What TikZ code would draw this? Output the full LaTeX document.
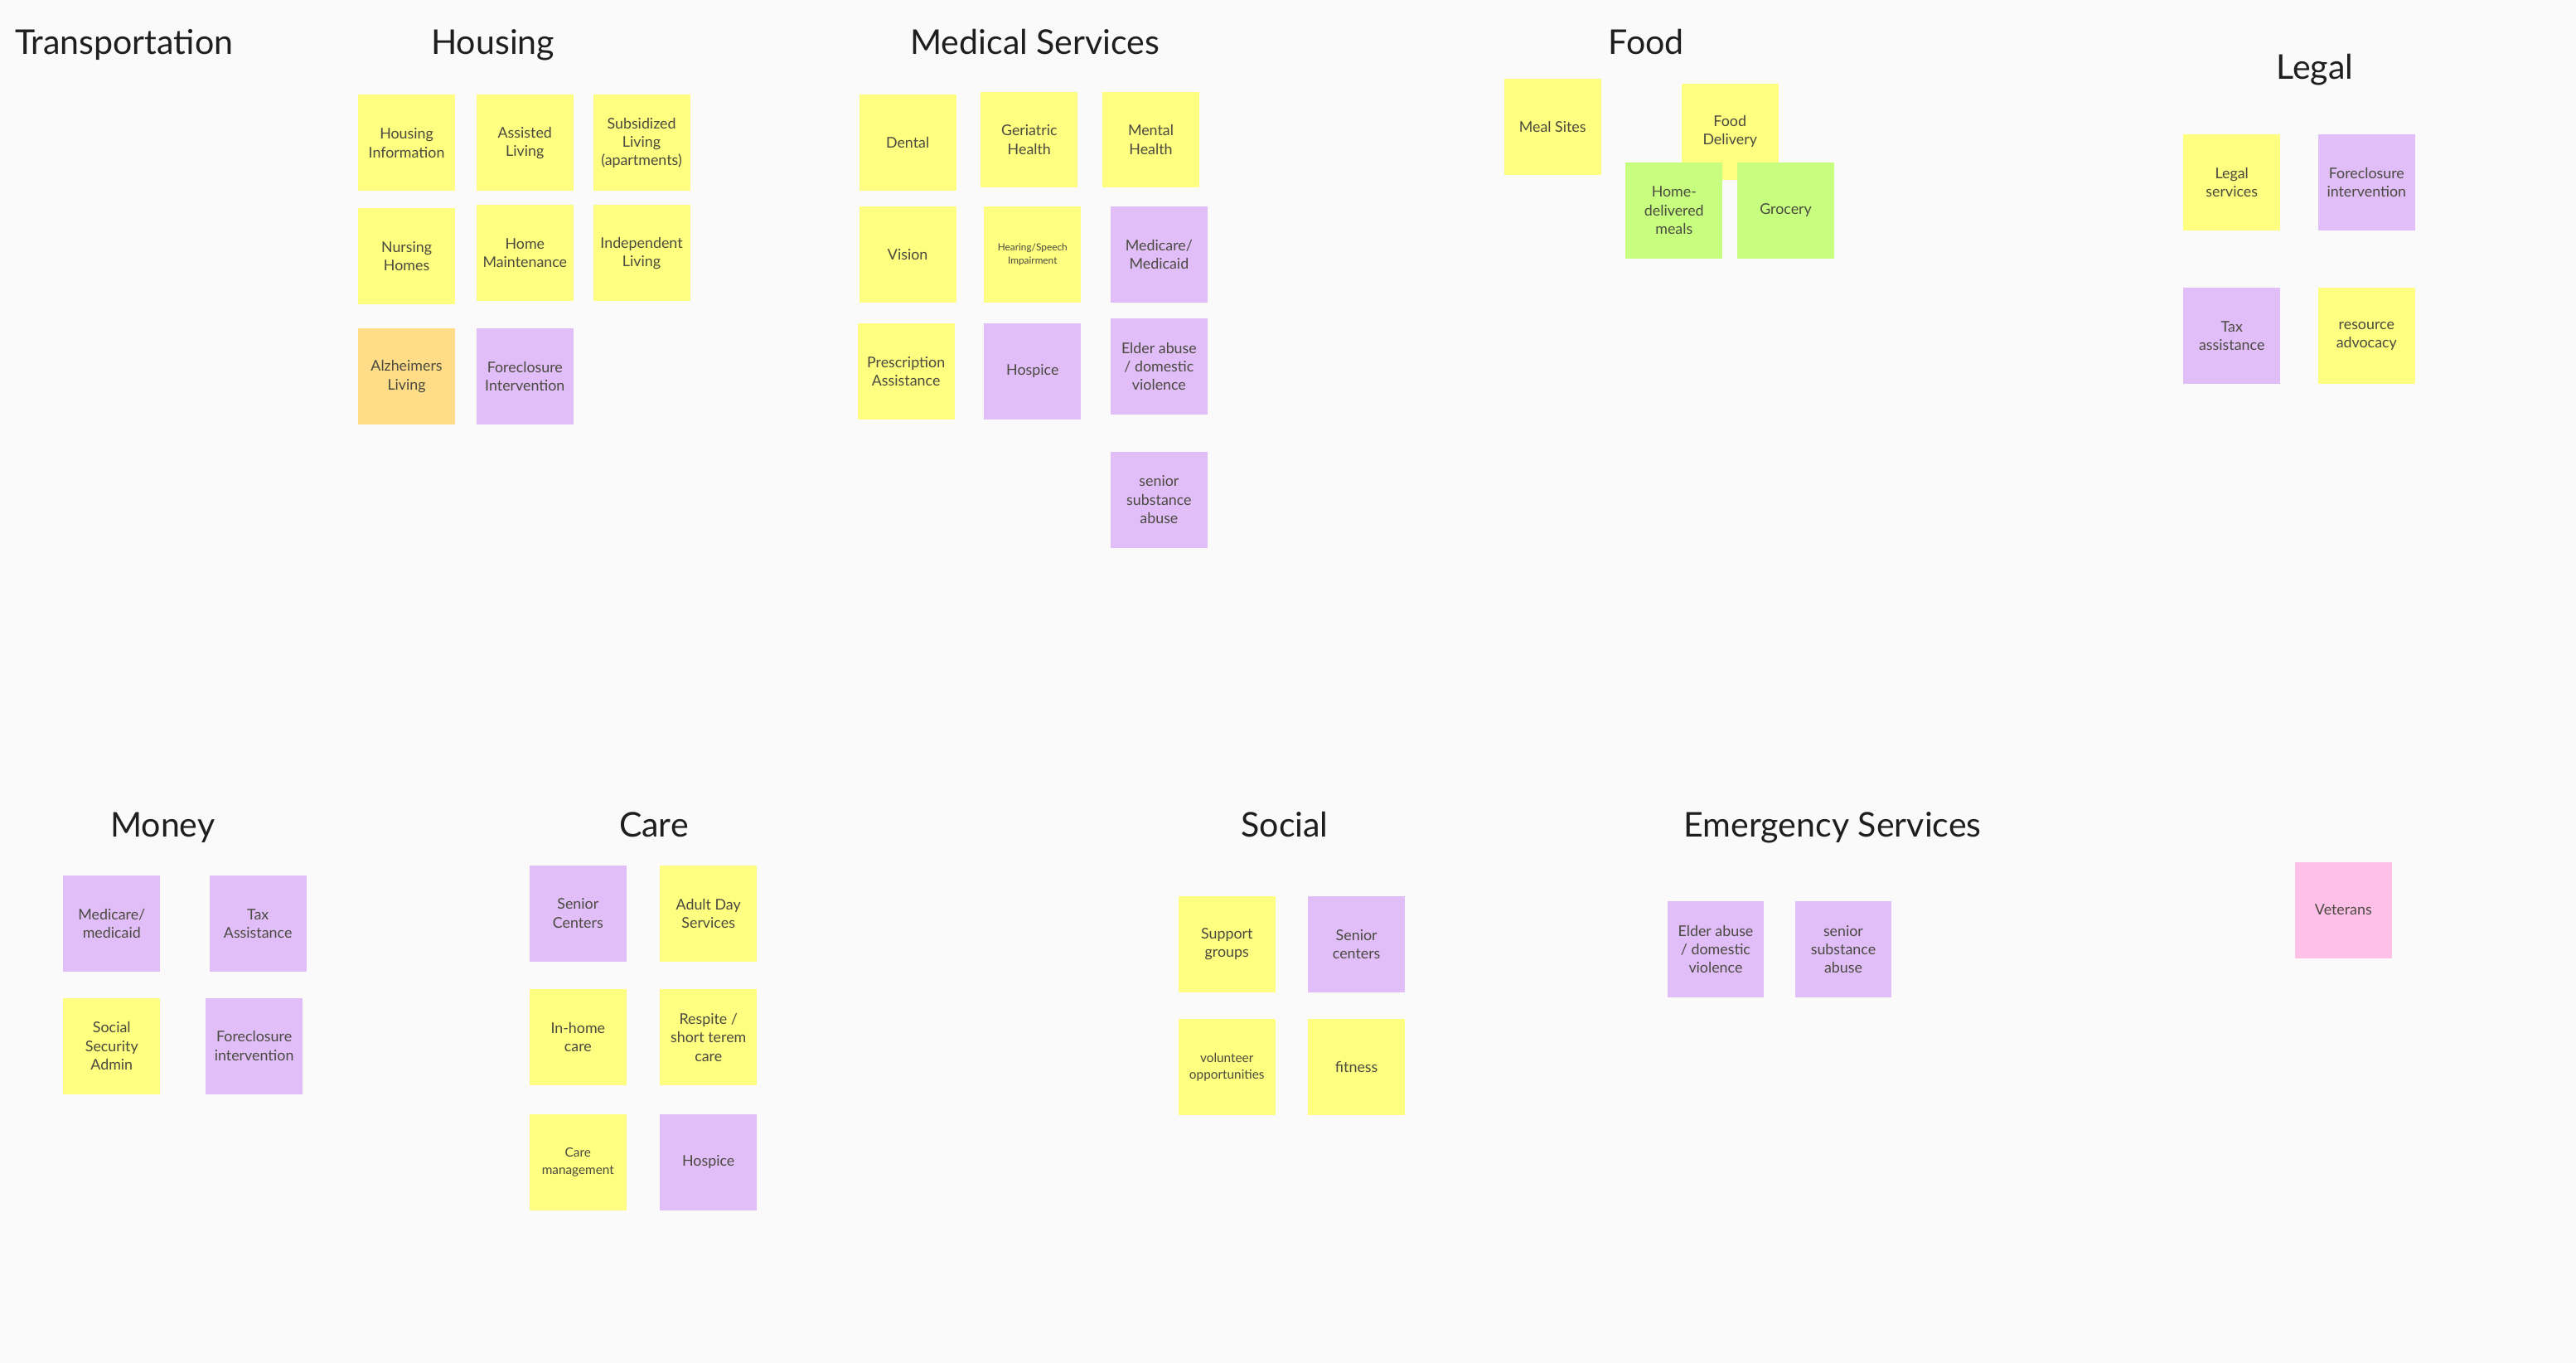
\documentclass[tikz,border=0pt]{standalone}
\usepackage{fontspec}
\setmainfont{Lato}
\definecolor{bg}{HTML}{FAFAFA}
\definecolor{sy}{HTML}{FEFE80}
\definecolor{sp}{HTML}{E1BEF8}
\definecolor{so}{HTML}{FFDD88}
\definecolor{sg}{HTML}{C8FE80}
\definecolor{spk}{HTML}{FFC0E8}
\definecolor{stxt}{HTML}{4A4A40}
\definecolor{ttl}{HTML}{1E1E1E}
\newcommand\stkfont{\fontsize{12.8}{16}\selectfont}
\newcommand\ttlfont{\fontsize{29.5}{34}\selectfont}
\tikzset{
  sticky/.style={minimum width=2.95cm, minimum height=2.925cm, inner sep=1pt,
    align=center, font=\stkfont, text=stxt, draw=none},
  ylw/.style={sticky, fill=sy},
  prp/.style={sticky, fill=sp},
  org/.style={sticky, fill=so},
  grn/.style={sticky, fill=sg},
  pnk/.style={sticky, fill=spk},
  title/.style={font=\ttlfont, text=ttl, anchor=base, inner sep=0pt}
}
\begin{document}
\begin{tikzpicture}[x=0.05cm, y=-0.05cm]
\fill[bg] (0,0) rectangle (1568,829.4);
\useasboundingbox (0,0) rectangle (1568,829.4);

% titles
\node[title] (tTrans) at (75.5,33) {Transportation};
\node[title] (tHous) at (300,33) {Housing};
\node[title] (tMed) at (630,33) {Medical Services};
\node[title] (tFood) at (1002,33) {Food};
\node[title] (tLegal) at (1409,48.4) {Legal};
\node[title] (tMoney) at (99,509.4) {Money};
\node[title] (tCare) at (398,509.4) {Care};
\node[title] (tSocial) at (782,509.4) {Social};
\node[title] (tEmerg) at (1115.5,509.4) {Emergency Services};

% Housing
\node[ylw] (h1) at (247.5,87) {Housing\\Information};
\node[ylw] (h2) at (319.5,87) {Assisted\\Living};
\node[ylw] (h3) at (390.5,87) {Subsidized\\Living\\(apartments)};
\node[ylw] (h4) at (247.5,156) {Nursing\\Homes};
\node[ylw] (h5) at (319.5,154) {Home\\Maintenance};
\node[ylw] (h6) at (390.5,154) {Independent\\Living};
\node[org] (h7) at (247.5,229) {Alzheimers\\Living};
\node[prp] (h8) at (319.5,229) {Foreclosure\\Intervention};

% Medical Services
\node[ylw] (m1) at (552.5,87) {Dental};
\node[ylw] (m2) at (626.5,85) {Geriatric\\Health};
\node[ylw] (m3) at (700.5,85) {Mental\\Health};
\node[ylw] (m4) at (552.5,155) {Vision};
\node[ylw, font=\fontsize{8.5}{11}\selectfont] (m5) at (628.5,155) {Hearing/Speech\\Impairment};
\node[prp] (m6) at (705.5,155) {Medicare/\\Medicaid};
\node[ylw] (m7) at (551.5,226) {Prescription\\Assistance};
\node[prp] (m8) at (628.5,226) {Hospice};
\node[prp] (m9) at (705.5,223) {Elder abuse\\/ domestic\\violence};
\node[prp] (m10) at (705.5,304) {senior\\substance\\abuse};

% Food
\node[ylw] (f1) at (945,77) {Meal Sites};
\node[ylw] (f2) at (1053,80) {Food\\Delivery};
\node[grn] (f3) at (1019,128) {Home-\\delivered\\meals};
\node[grn] (f4) at (1087,128) {Grocery};

% Legal
\node[ylw] (l1) at (1358.5,111) {Legal\\services};
\node[prp] (l2) at (1440.5,111) {Foreclosure\\intervention};
\node[prp] (l3) at (1358.5,204.5) {Tax\\assistance};
\node[ylw] (l4) at (1440.5,204.5) {resource\\advocacy};

% Money
\node[prp] (y1) at (68,562) {Medicare/\\medicaid};
\node[prp] (y2) at (157,562) {Tax\\Assistance};
\node[ylw] (y3) at (68,636.5) {Social\\Security\\Admin};
\node[prp] (y4) at (154.7,636.5) {Foreclosure\\intervention};

% Care
\node[prp] (c1) at (351.8,555.8) {Senior\\Centers};
\node[ylw] (c2) at (431.2,555.8) {Adult Day\\Services};
\node[ylw] (c3) at (351.8,631.3) {In-home\\care};
\node[ylw] (c4) at (431.2,631.3) {Respite /\\short terem\\care};
\node[ylw, font=\fontsize{11}{15}\selectfont] (c5) at (351.8,707.2) {Care\\management};
\node[prp] (c6) at (431.2,707.2) {Hospice};

% Social
\node[ylw] (s1) at (746.8,574.6) {Support\\groups};
\node[prp] (s2) at (825.7,574.6) {Senior\\centers};
\node[ylw, font=\fontsize{11}{15}\selectfont] (s3) at (746.8,649.4) {volunteer\\opportunities};
\node[ylw] (s4) at (825.7,649.4) {fitness};

% Emergency Services
\node[prp] (e1) at (1044.3,577.6) {Elder abuse\\/ domestic\\violence};
\node[prp] (e2) at (1122,577.6) {senior\\substance\\abuse};

% Veterans
\node[pnk] (v1) at (1426.4,553.7) {Veterans};
\end{tikzpicture}
\end{document}
